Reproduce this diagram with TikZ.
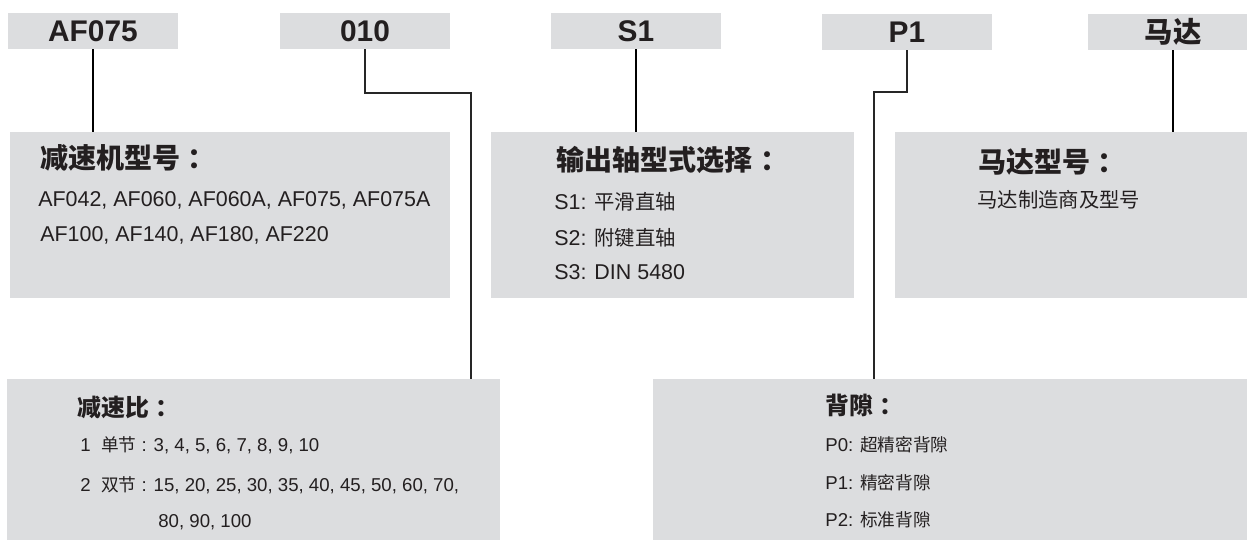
\documentclass[tikz,border=0pt]{standalone}
\usepackage{fontspec}
\setmainfont{Liberation Sans}
\newfontfamily\cjk[Scale=0.95]{Noto Sans CJK SC}
\newcommand\zhtext[1]{{\cjk #1}}
\newcommand\zhcolon{\kern0.25em\zhtext{：}}
\definecolor{panelgray}{RGB}{220,221,223}
\definecolor{inkdark}{RGB}{35,31,32}

\begin{document}
\begin{tikzpicture}[x=0.02cm,y=-0.02cm,
    tag/.style={fill=panelgray,text=inkdark,minimum width=3.4cm,minimum height=0.72cm,inner sep=0pt,font=\fontsize{17pt}{20pt}\selectfont\bfseries},
    panel/.style={fill=panelgray,inner sep=0pt},
    head/.style={anchor=west,inner sep=0pt,text=inkdark,font=\fontsize{16.8pt}{20pt}\selectfont\bfseries},
    subhead/.style={anchor=west,inner sep=0pt,text=inkdark,font=\fontsize{14.3pt}{17pt}\selectfont\bfseries},
    item/.style={anchor=west,inner sep=0pt,text=inkdark,font=\fontsize{12.2pt}{14pt}\selectfont},
    subitem/.style={anchor=west,inner sep=0pt,text=inkdark,font=\fontsize{10.6pt}{13pt}\selectfont},
    lead/.style={draw=black,line width=1.1pt},
    elbow/.style={draw=black!85,line width=0.6pt}]
                \useasboundingbox (0,0) rectangle (1247,539);
                \clip (0,0) rectangle (1247,539);

                % code tags
                \node[tag] (tModel) at (93,31) {AF075};
                \node[tag] (tRatio) at (365,31) {010};
                \node[tag] (tShaft) at (636,31) {S1};
                \node[tag] (tBack) at (907,32) {P1};
                \node[tag] (tMotor) at (1173,32) {\zhtext{马达}};

                % panels
                \node[panel,minimum width=8.8cm,minimum height=3.32cm] (pModel) at (230,215) {};
                \node[panel,minimum width=7.26cm,minimum height=3.32cm] (pShaft) at (672.5,215) {};
                \node[panel,minimum width=7.3cm,minimum height=3.32cm] (pMotor) at (1077.5,215) {};
                \node[panel,minimum width=9.86cm,minimum height=3.32cm] (pRatio) at (253.5,462) {};
                \node[panel,minimum width=12.14cm,minimum height=3.32cm] (pBack) at (956.5,462) {};

                % gearbox model
                \node[head] (hModel) at (40,158) {\zhtext{减速机型号}\zhcolon};
                \node[item] (iModelA) at (38,200) {AF042, AF060, AF060A, AF075, AF075A};
                \node[item] (iModelB) at (40,235) {AF100, AF140, AF180, AF220};

                % output shaft
                \node[head] (hShaft) at (556,160) {\zhtext{输出轴型式选择}\zhcolon};
                \foreach \y/\t [count=\i] in {202/{S1: \zhtext{平滑直轴}},238/{S2: \zhtext{附键直轴}},272/{S3: DIN 5480}}{
                    \node[item] (iShaft\i) at (554,\y) {\t};
                }

                % motor
                \node[head] (hMotor) at (978,162) {\zhtext{马达型号}\zhcolon};
                \node[item] (iMotor) at (977,200) {\zhtext{马达制造商及型号}};

                % ratio
                \node[subhead] (hRatio) at (77,407) {\zhtext{减速比}\zhcolon};
                \node[subitem] (iRatioA) at (80,445) {1\ \ \zhtext{单节} : 3, 4, 5, 6, 7, 8, 9, 10};
                \node[subitem] (iRatioB) at (80,485) {2\ \ \zhtext{双节} : 15, 20, 25, 30, 35, 40, 45, 50, 60, 70,};
                \node[subitem] (iRatioC) at (158,522) {80, 90, 100};

                % backlash
                \node[subhead] (hBack) at (825,405) {\zhtext{背隙}\zhcolon};
                \foreach \y/\t [count=\i] in {445/{P0: \zhtext{超精密背隙}},483/{P1: \zhtext{精密背隙}},520/{P2: \zhtext{标准背隙}}}{
                    \node[subitem] (iBack\i) at (825,\y) {\t};
                }

                % leaders
                \coordinate (kRatio) at (471,93);
                \coordinate (kBack) at (874,92);
                \draw[lead] (tModel.south) -- (tModel.south |- pModel.north);
                \draw[lead] (tShaft.south) -- (tShaft.south |- pShaft.north);
                \draw[lead] (tMotor.south) -- (tMotor.south |- pMotor.north);
                \draw[elbow] (tRatio.south) |- (kRatio) -- (kRatio |- pRatio.north);
                \draw[elbow] (tBack.south) |- (kBack) -- (kBack |- pBack.north);
            \end{tikzpicture}
\end{document}
